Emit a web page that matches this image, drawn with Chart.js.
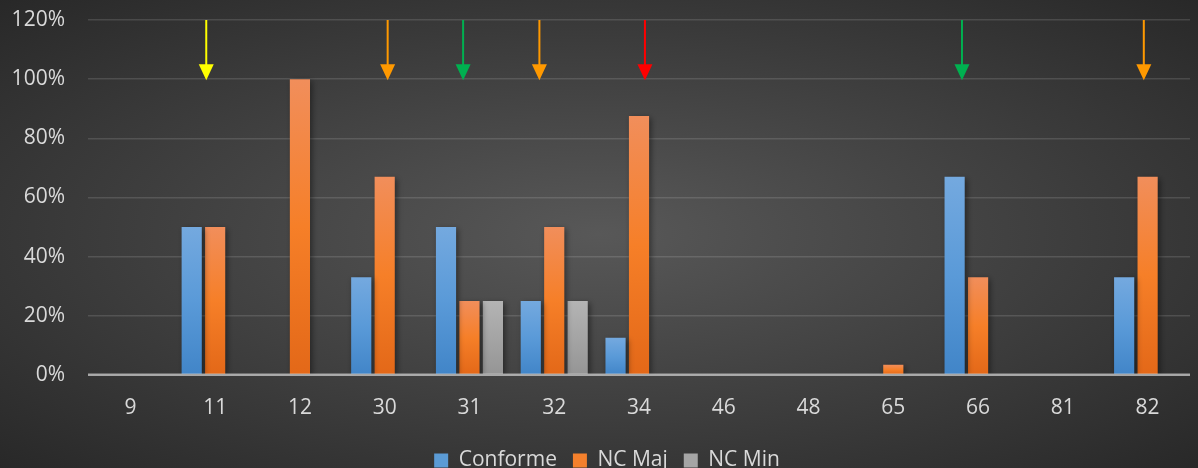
<!DOCTYPE html>
<html>
<head>
<meta charset="utf-8">
<script src="https://cdn.jsdelivr.net/npm/chart.js@4"></script>
<style>
  html, body { margin: 0; padding: 0; background: #2b2b2b; overflow: hidden; }
  #wrap { width: 1198px; height: 481px; }
</style>
</head>
<body>
<div id="wrap"><canvas id="myChart"></canvas></div>
<script>
// data
var categories = ['9', '11', '12', '30', '31', '32', '34', '46', '48', '65', '66', '81', '82'];
var conforme = [0, 50, 0, 33, 50, 25, 12.5, 0, 0, 0, 67, 0, 33];
var ncMaj    = [0, 50, 100, 67, 25, 50, 87.5, 0, 0, 3.4, 33, 0, 67];
var ncMin    = [0, 0, 0, 0, 25, 25, 0, 0, 0, 0, 0, 0, 0];
var yTicks   = [0, 20, 40, 60, 80, 100, 120];
var arrowCats   = ['11', '30', '31', '32', '34', '66', '82'];
var arrowColors = ['#ffff00', '#ff9900', '#00b050', '#ff9900', '#ff0000', '#00b050', '#ff9900'];

// arrow x offsets (fraction of a category)
var arrowShift = [-0.105, 0.035, -0.075, -0.175, 0.07, -0.19, -0.045];

function barGradient(stops, flat){
    return function(context){
        var chart = context.chart;
        if (!chart.chartArea || context.parsed == null) return flat;
        var y = chart.scales.y;
        var top = y.getPixelForValue(context.parsed.y);
        var bottom = y.getPixelForValue(0);
        if (bottom - top < 1) return flat;
        var g = chart.ctx.createLinearGradient(0, top, 0, bottom);
        for (var i = 0; i < stops.length; i++) g.addColorStop(stops[i][0], stops[i][1]);
        return g;
    };
}

var bgPlugin = {
    id: 'bg',
    afterLayout: function(chart){
        // legend sits a bit right of centre in the original
        chart.legend.left += 12;
        chart.legend.right += 12;
    },
    beforeDraw: function(chart){
        var ctx = chart.ctx, w = chart.width, h = chart.height;
        ctx.save();
        ctx.translate(w / 2, 234);
        ctx.scale(1, 468 / w);
        var g = ctx.createRadialGradient(0, 0, 0, 0, 0, w * 0.71);
        g.addColorStop(0, '#585858');
        g.addColorStop(1, '#282828');
        ctx.fillStyle = g;
        ctx.fillRect(-w, -w * 2, w * 2, w * 4);
        ctx.restore();
    }
};

var shadowPlugin = {
    id: 'barShadow',
    beforeDatasetsDraw: function(chart){
        var ctx = chart.ctx;
        ctx.save();
        ctx.shadowColor = 'rgba(0,0,0,0.45)';
        ctx.shadowBlur = 6;
        ctx.shadowOffsetX = 2;
        ctx.shadowOffsetY = 2;
    },
    afterDatasetsDraw: function(chart){
        var ctx = chart.ctx;
        ctx.restore();
        // baseline over the bars
        var y = chart.scales.y.getPixelForValue(0);
        ctx.save();
        ctx.strokeStyle = 'rgba(200,200,200,0.75)';
        ctx.lineWidth = 2.5;
        ctx.beginPath();
        ctx.moveTo(chart.chartArea.left, y);
        ctx.lineTo(chart.chartArea.right, y);
        ctx.stroke();
        ctx.restore();
    }
};

var arrowPlugin = {
    id: 'arrows',
    afterDraw: function(chart){
        var ctx = chart.ctx, xs = chart.scales.x, ys = chart.scales.y;
        var step = (chart.chartArea.right - chart.chartArea.left) / categories.length;
        var y0 = ys.getPixelForValue(120), y1 = ys.getPixelForValue(100);
        ctx.save();
        for (var i = 0; i < arrowCats.length; i++){
            var x = xs.getPixelForValue(categories.indexOf(arrowCats[i])) + arrowShift[i] * step;
            ctx.strokeStyle = arrowColors[i];
            ctx.fillStyle = arrowColors[i];
            ctx.lineWidth = 2;
            ctx.beginPath();
            ctx.moveTo(x, y0);
            ctx.lineTo(x, y1 - 12);
            ctx.stroke();
            ctx.beginPath();
            ctx.moveTo(x - 7.5, y1 - 15);
            ctx.lineTo(x + 7.5, y1 - 15);
            ctx.lineTo(x, y1 + 1);
            ctx.closePath();
            ctx.fill();
        }
        ctx.restore();
    }
};

var legendColors = ['#5b9bd5', '#f4802c', '#a5a5a5'];

new Chart(document.getElementById('myChart'), {
    type: 'bar',
    data: {
        labels: categories,
        datasets: [{
            label: 'Conforme',
            data: conforme,
            backgroundColor: barGradient([[0, '#74a9df'], [0.5, '#5a9ad8'], [1, '#4185c8']], '#5b9bd5')
        }, {
            label: 'NC Maj',
            data: ncMaj,
            backgroundColor: barGradient([[0, '#f18e5b'], [0.5, '#f67f28'], [1, '#e36818']], '#f4802c')
        }, {
            label: 'NC Min',
            data: ncMin,
            backgroundColor: barGradient([[0, '#b4b4b4'], [1, '#959595']], '#a5a5a5')
        }]
    },
    options: {
        responsive: true,
        maintainAspectRatio: false,
        animation: false,
        datasets: {
            bar: {
                categoryPercentage: 0.83,
                barPercentage: 0.86,
                borderWidth: 0
            }
        },
        layout: {
            padding: { top: 20, left: 0, right: 8, bottom: 0 }
        },
        plugins: {
            legend: {
                position: 'bottom',
                labels: {
                    color: '#d9d9d9',
                    font: { family: 'Open Sans', size: 21 },
                    boxWidth: 14,
                    boxHeight: 14,
                    padding: 16,
                    generateLabels: function(chart){
                        return chart.data.datasets.map(function(ds, i){
                            return {
                                text: ds.label,
                                fillStyle: legendColors[i],
                                strokeStyle: legendColors[i],
                                lineWidth: 0,
                                fontColor: '#d9d9d9',
                                datasetIndex: i
                            };
                        });
                    }
                }
            },
            tooltip: { enabled: false }
        },
        scales: {
            x: {
                grid: { display: false },
                border: { display: false },
                ticks: {
                    color: '#d9d9d9',
                    font: { family: 'Open Sans', size: 21 },
                    padding: 13,
                    maxRotation: 0
                }
            },
            y: {
                min: 0,
                max: yTicks[yTicks.length - 1],
                afterBuildTicks: function(axis){
                    axis.ticks = yTicks.map(function(v){ return { value: v }; });
                },
                afterFit: function(axis){
                    axis.width = 88;
                    axis.paddingTop = 0;
                    axis.paddingBottom = 0;
                },
                grid: {
                    color: 'rgba(255,255,255,0.13)',
                    lineWidth: 1.5,
                    drawTicks: false
                },
                border: { display: false },
                ticks: {
                    color: '#d9d9d9',
                    font: { family: 'Open Sans', size: 21 },
                    padding: 23,
                    callback: function(v){ return v + '%'; }
                }
            }
        }
    },
    plugins: [bgPlugin, shadowPlugin, arrowPlugin]
});
</script>
</body>
</html>
